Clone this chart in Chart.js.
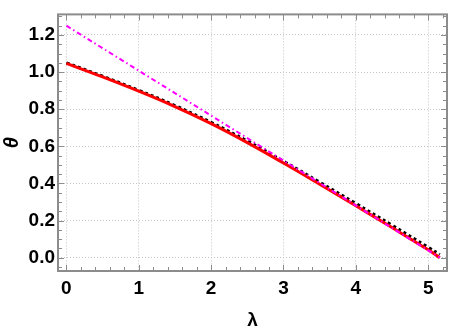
<!DOCTYPE html>
<html><head><meta charset="utf-8">
<script src="https://cdn.jsdelivr.net/npm/chart.js@4/dist/chart.umd.min.js"></script>
<style>html,body{margin:0;padding:0;background:#fff}#c{display:block}</style>
</head><body>
<canvas id="c" width="449" height="332"></canvas>
<script>
const lambdaX   = [0, 0.5, 1, 1.5, 2, 2.5, 3, 3.5, 4, 4.5, 5, 5.16];
const redTheta  = [1.047, 0.974, 0.897, 0.814, 0.722, 0.620, 0.510, 0.396, 0.280, 0.162, 0.042, 0.0];
const blackTheta= [1.050, 0.978, 0.902, 0.820, 0.729, 0.629, 0.520, 0.407, 0.292, 0.175, 0.056, 0.017];
const magentaX  = [0, 5.16];
const magentaTheta = [1.25, 0.0];
const xTicks = [0, 1, 2, 3, 4, 5];
const yTicks = [0.0, 0.2, 0.4, 0.6, 0.8, 1.0, 1.2];

const pts = (xs, ys) => xs.map((x, i) => ({x: x, y: ys[i]}));
const tickFont = {family: 'Liberation Sans, Arial, sans-serif', size: 19, weight: 'bold'};

const framePlugin = {
  id: 'frame',
  afterDraw(chart) {
    const {ctx, chartArea: a, scales} = chart;
    const xs = scales.x, ys = scales.y;
    ctx.save();
    ctx.strokeStyle = '#8c8c8c';
    ctx.lineWidth = 1;
    ctx.beginPath();
    for (let v = 0; v <= 5.21; v += 0.2) {
      const px = Math.round(xs.getPixelForValue(v)) + 0.5;
      const major = Math.abs(v - Math.round(v)) < 1e-6;
      const L = major ? 6 : 4;
      ctx.moveTo(px, a.bottom); ctx.lineTo(px, a.bottom - L);
      ctx.moveTo(px, a.top); ctx.lineTo(px, a.top + L);
    }
    for (let v = -0.05; v <= 1.31; v += 0.05) {
      const py = Math.round(ys.getPixelForValue(v)) + 0.5;
      const k = Math.round(v / 0.2 * 1000) / 1000;
      const major = Math.abs(k - Math.round(k)) < 1e-3;
      const L = major ? 6 : 4;
      ctx.moveTo(a.left, py); ctx.lineTo(a.left + L, py);
      ctx.moveTo(a.right, py); ctx.lineTo(a.right - L, py);
    }
    ctx.stroke();
    ctx.lineWidth = 2;
    ctx.strokeRect(a.left, a.top, a.right - a.left, a.bottom - a.top);
    ctx.restore();
  }
};

new Chart(document.getElementById('c'), {
  type: 'line',
  data: {
    datasets: [
      {data: pts(magentaX, magentaTheta), borderColor: '#ff00ff', borderWidth: 2,
       borderDash: [5, 3, 1.5, 3], pointRadius: 0, fill: false},
      {data: pts(lambdaX, redTheta), borderColor: '#ff0000', borderWidth: 3,
       pointRadius: 0, fill: false, tension: 0.4},
      {data: pts(lambdaX, blackTheta), borderColor: '#000000', borderWidth: 3,
       borderDash: [3, 3], pointRadius: 0, fill: false, tension: 0.4}
    ]
  },
  options: {
    responsive: false,
    animation: false,
    layout: {padding: {top: 1, right: 2, left: 0, bottom: 0}},
    plugins: {legend: {display: false}, tooltip: {enabled: false}},
    scales: {
      x: {
        type: 'linear', min: -0.116, max: 5.26,
        afterBuildTicks: s => { s.ticks = xTicks.map(v => ({value: v})); },
        afterFit: s => { s.height = 61; },
        ticks: {color: '#000', font: tickFont, padding: 6, maxRotation: 0,
                callback: v => String(v)},
        grid: {color: '#c4c4c4', drawTicks: false},
        border: {display: false, dash: [1, 2]},
        title: {display: true, text: 'λ', color: '#000',
                font: {family: 'Liberation Sans, Arial, sans-serif', size: 19, weight: 'bold'},
                padding: {top: 0, bottom: 0}}
      },
      y: {
        type: 'linear', min: -0.072, max: 1.311,
        afterBuildTicks: s => { s.ticks = yTicks.map(v => ({value: v})); },
        afterFit: s => { s.width = 58; },
        ticks: {color: '#000', font: tickFont, padding: 3,
                callback: v => Number(v).toFixed(1)},
        grid: {color: '#c4c4c4', drawTicks: false},
        border: {display: false, dash: [1, 2]},
        title: {display: true, text: 'θ', color: '#000',
                font: {family: 'Liberation Sans, Arial, sans-serif', size: 20, weight: 'bold', style: 'italic'},
                padding: {top: 0, bottom: 0}}
      }
    }
  },
  plugins: [framePlugin]
});
</script>
</body></html>
